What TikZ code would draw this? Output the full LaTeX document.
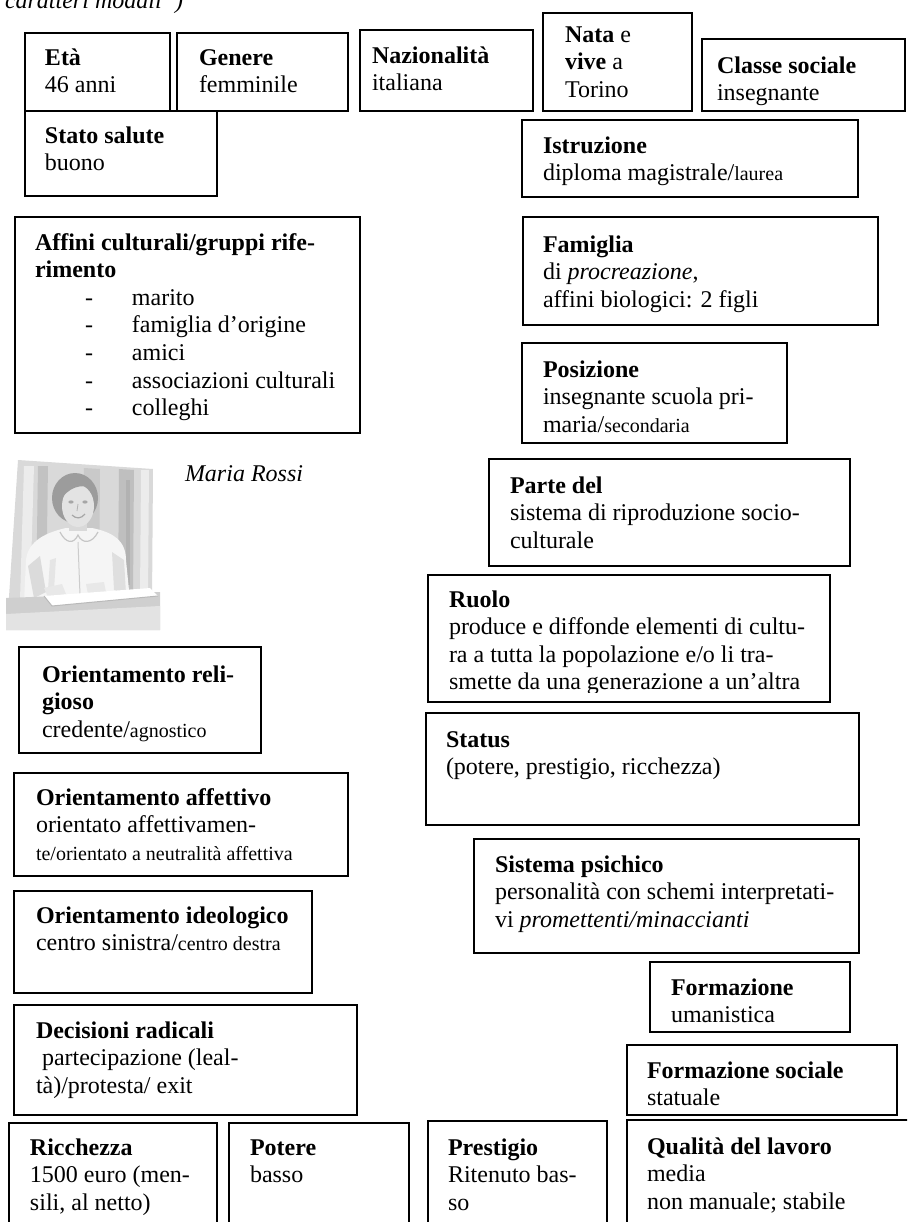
\documentclass[tikz,border=0pt]{standalone}
\usepackage{fontspec}
\setmainfont{Liberation Serif}
\usepackage{array}

% a framed field: name, left, top, right, bottom (in pixel-like units)
\newcommand\Frame[5]{%
  \node[frame, minimum width={(#4-#2)*0.5pt}, minimum height={(#5-#3)*0.5pt}] (#1) at (#2,#3) {};}
% smaller type used inside some fields
\newcommand\sm[1]{{\fontsize{10}{13.8}\selectfont #1}}
% a block of lines whose first baseline sits on the node anchor
\newcommand\Lines[1]{\begin{tabular}[t]{@{}l@{}}#1\end{tabular}}
\newcommand\listentry[1]{\hspace*{25pt}\makebox[23.5pt][l]{-}#1}

\begin{document}
\begin{tikzpicture}[x=0.5pt, y=-0.5pt,
  frame/.style={draw, line width=1pt, inner sep=0pt, outer sep=0pt, anchor=north west},
  txt/.style={anchor=base west, inner sep=0pt, outer sep=0pt, font=\fontsize{12}{13.8}\selectfont}]
\useasboundingbox (0,0) rectangle (907,1222);
\clip (0,0) rectangle (907,1222);

% heading fragment at the top edge
\node[txt, font=\fontsize{12}{13.8}\selectfont\itshape] (head) at (5,8) {caratteri modali”)};

% ---- top row ----
\Frame{eta}{25}{33}{170}{111}
\node[txt] (etaT) at (45,65) {\Lines{\textbf{Età}\\46 anni}};
\Frame{genere}{177}{33}{348}{111}
\node[txt] (genereT) at (199,65) {\Lines{\textbf{Genere}\\femminile}};
\Frame{naz}{360}{30}{533}{111}
\node[txt] (nazT) at (372,63) {\Lines{\textbf{Nazionalità}\\italiana}};
\Frame{nata}{543}{13}{692}{111}
\node[txt] (nataT) at (565,42) {\Lines{\textbf{Nata} e\\\textbf{vive} a\\Torino}};
\Frame{classe}{702}{39}{905}{111}
\node[txt] (classeT) at (717,73) {\Lines{\textbf{Classe sociale}\\insegnante}};

\Frame{salute}{25}{111}{217}{196}
\node[txt] (saluteT) at (45,143) {\Lines{\textbf{Stato salute}\\buono}};
\Frame{istr}{522}{120}{858}{197}
\node[txt] (istrT) at (543,153) {\Lines{\textbf{Istruzione}\\diploma magistrale/\sm{laurea}}};

% ---- left column ----
\Frame{affini}{15}{217}{360}{433}
\node[txt] (affiniT) at (35,250) {\Lines{\textbf{Affini culturali/gruppi rife-}\\\textbf{rimento}\\
  \listentry{marito}\\\listentry{famiglia d’origine}\\\listentry{amici}\\\listentry{associazioni culturali}\\\listentry{colleghi}}};

% portrait of Maria Rossi
\begin{scope}
  % backdrop panels
  \fill[gray!30] (18,460) -- (153,469) -- (152,606) -- (8,612) -- cycle;
  \fill[gray!15] (24,466) -- (34,466) -- (30,600) -- (20,600) -- cycle;
  \fill[gray!48] (38,466) -- (48,466) -- (46,600) -- (36,600) -- cycle;
  \fill[gray!42] (84,468) -- (100,469) -- (99,600) -- (83,600) -- cycle;
  \fill[gray!50] (119,469) -- (134,470) -- (133,596) -- (118,596) -- cycle;
  \fill[gray!15] (141,470) -- (149,470) -- (148,600) -- (140,600) -- cycle;
  \fill[gray!60] (126,480) -- (130,480) -- (130,585) -- (126,585) -- cycle;
  % blouse with puffed sleeves
  \fill[gray!8] (26,560) .. controls (28,540) and (48,532) .. (66,528) -- (92,528)
     .. controls (112,532) and (126,540) .. (126,560) -- (130,600) -- (24,603) -- cycle;
  \draw[gray!45, line width=0.6pt] (60,532) .. controls (66,544) and (74,544) .. (78,535)
     .. controls (82,544) and (92,544) .. (98,532);
  \draw[gray!40, line width=0.5pt] (78,542) -- (80,595);
  \fill[gray!28] (28,566) -- (40,556) -- (46,592) -- (34,598) -- cycle;
  \fill[gray!25] (112,552) -- (124,560) -- (126,594) -- (114,590) -- cycle;
  \fill[gray!20] (50,560) -- (56,558) -- (54,590) -- (48,590) -- cycle;
  % neck and head
  \fill[gray!30] (69,515) rectangle (87,531);
  \fill[gray!78] (75,498) ellipse [x radius=11.5pt, y radius=12.5pt];
  \fill[gray!22] (78,506) ellipse [x radius=8pt, y radius=10.5pt];
  \fill[gray!78] (60,484) .. controls (68,472) and (90,474) .. (96,490)
     .. controls (88,484) and (72,484) .. (63,497) -- cycle;
  \fill[gray!70] (71,502) ellipse [x radius=1.3pt, y radius=0.8pt];
  \fill[gray!70] (85,502) ellipse [x radius=1.3pt, y radius=0.8pt];
  \draw[gray!60, line width=0.4pt] (78,504) -- (77,511);
  \draw[gray!70, line width=0.6pt] (72,515) .. controls (76,519) and (81,519) .. (85,514);
  % hands resting on the book
  \fill[gray!18] (44,588) -- (62,584) -- (66,594) -- (48,597) -- cycle;
  \fill[gray!18] (86,584) -- (104,582) -- (106,592) -- (88,594) -- cycle;
  % desk and book
  \fill[gray!38] (6,598) -- (160,592) -- (160,630) -- (6,630) -- cycle;
  \fill[gray!22] (6,614) -- (160,606) -- (160,630) -- (6,630) -- cycle;
  \fill[white] (44,596) -- (150,588) -- (158,596) -- (52,606) -- cycle;
  \draw[gray!55, line width=0.5pt] (44,596) -- (52,606) -- (158,596);
\end{scope}
\node[txt, font=\fontsize{12}{13.8}\selectfont\itshape] (nome) at (185,481) {Maria Rossi};

\Frame{relig}{19}{647}{261}{753}
\node[txt] (religT) at (42,682) {\Lines{\textbf{Orientamento reli-}\\\textbf{gioso}\\credente/\sm{agnostico}}};
\Frame{affett}{14}{773}{348}{876}
\node[txt] (affettT) at (36,805) {\Lines{\textbf{Orientamento affettivo}\\orientato affettivamen-\\\sm{te/orientato a neutralità affettiva}}};
\Frame{ideol}{14}{891}{312}{993}
\node[txt] (ideolT) at (36,923) {\Lines{\textbf{Orientamento ideologico}\\centro sinistra/\sm{centro destra}}};
\Frame{decis}{14}{1005}{357}{1115}
\node[txt] (decisT) at (36,1038) {\Lines{\textbf{Decisioni radicali}\\\ partecipazione (leal-\\tà)/protesta/ exit}};

% ---- right column ----
\Frame{famiglia}{523}{217}{878}{325}
\node[txt] (famigliaT) at (543,252) {\Lines{\textbf{Famiglia}\\di \textit{procreazione},\\affini biologici: 2 figli}};
\Frame{posiz}{522}{343}{787}{443}
\node[txt] (posizT) at (543,377) {\Lines{\textbf{Posizione}\\insegnante scuola pri-\\maria/\sm{secondaria}}};
\Frame{parte}{489}{459}{850}{566}
\node[txt] (parteT) at (510,493) {\Lines{\textbf{Parte del}\\sistema di riproduzione socio-\\culturale}};
\Frame{ruolo}{428}{575}{830}{702}
\begin{scope}
  \clip (428,575) rectangle (830,692);
  \node[txt] (ruoloT) at (449,607) {\Lines{\textbf{Ruolo}\\produce e diffonde elementi di cultu-\\ra a tutta la popolazione e/o li tra-\\smette da una generazione a un’altra}};
\end{scope}
\Frame{status}{426}{713}{859}{825}
\node[txt] (statusT) at (446,747) {\Lines{\textbf{Status}\\(potere, prestigio, ricchezza)}};
\Frame{psich}{474}{839}{859}{953}
\node[txt] (psichT) at (495,872) {\Lines{\textbf{Sistema psichico}\\personalità con schemi interpretati-\\vi \textit{promettenti/minaccianti}}};
\Frame{form}{650}{962}{850}{1032}
\node[txt] (formT) at (671,995) {\Lines{\textbf{Formazione}\\umanistica}};
\Frame{formsoc}{627}{1045}{897}{1115}
\begin{scope}
  \clip (627,1045) rectangle (897,1105);
  \node[txt] (formsocT) at (647,1078) {\Lines{\textbf{Formazione sociale}\\statuale}};
\end{scope}

% ---- bottom row ----
\Frame{ricch}{9}{1123}{217}{1240}
\node[txt] (ricchT) at (30,1155) {\Lines{\textbf{Ricchezza}\\1500 euro (men-\\sili, al netto)}};
\Frame{potere}{229}{1123}{409}{1240}
\node[txt] (potereT) at (250,1155) {\Lines{\textbf{Potere}\\basso}};
\Frame{prest}{428}{1121}{607}{1240}
\node[txt] (prestT) at (448,1155) {\Lines{\textbf{Prestigio}\\Ritenuto bas-\\so}};
\Frame{qual}{627}{1120}{930}{1240}
\node[txt] (qualT) at (647,1154) {\Lines{\textbf{Qualità del lavoro}\\media\\non manuale; stabile}};
\end{tikzpicture}
\end{document}
